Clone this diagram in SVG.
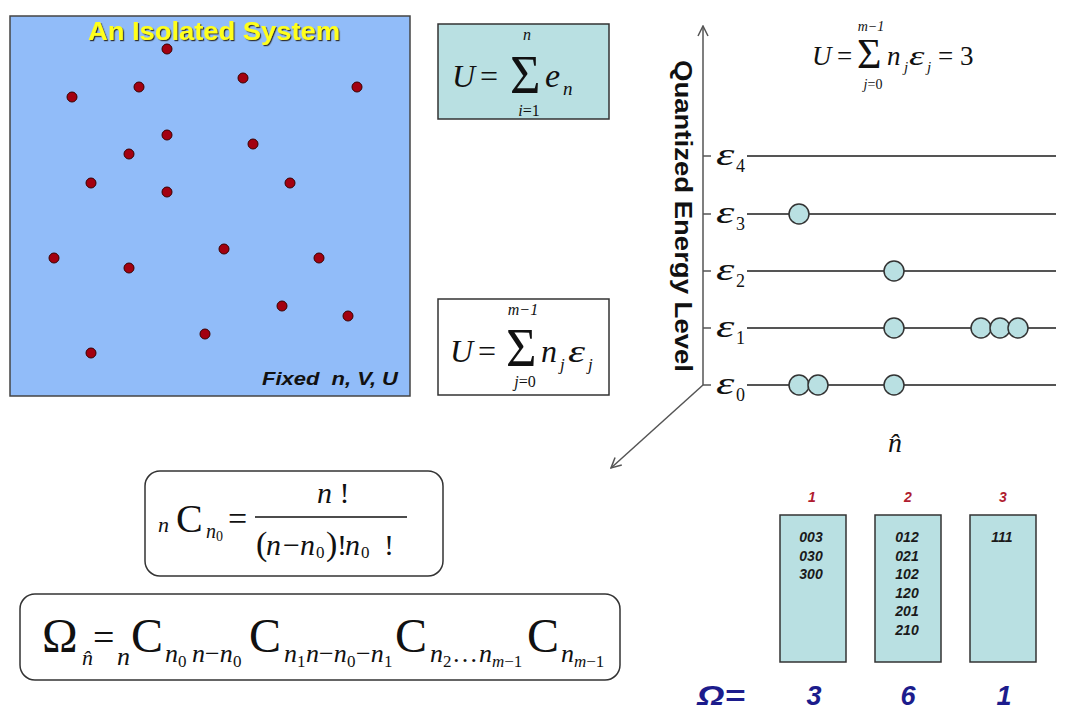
<svg xmlns="http://www.w3.org/2000/svg" width="1074" height="713" viewBox="0 0 1074 713">
<style>
.m{font-family:"Liberation Serif","Times New Roman",serif;fill:#111}
.i{font-style:italic}
.box{stroke:#333;stroke-width:1.5}
.dot{fill:#a30010;stroke:#3a0000;stroke-width:1}
.lvl{stroke:#555;stroke-width:2}
.ax{stroke:#555;stroke-width:1.5;fill:none}
.p{fill:#b9e0e2;stroke:#333;stroke-width:1.5}
.st{font-family:"Liberation Sans",Arial,sans-serif;font-weight:bold;font-style:italic;font-size:14px;fill:#1a1a1a;text-anchor:middle}
.lab{font-family:"Liberation Sans",Arial,sans-serif;font-weight:bold;font-style:italic;font-size:14px;fill:#b01c30;text-anchor:middle}
.om{font-family:"Liberation Sans",Arial,sans-serif;font-weight:bold;font-style:italic;font-size:27px;fill:#1c1c8c}
</style>
<defs>
<filter id="sh" x="-10%" y="-30%" width="120%" height="160%"><feDropShadow dx="1.2" dy="1.2" stdDeviation="0.6" flood-color="#333"/></filter>
<marker id="ar" markerWidth="12" markerHeight="12" refX="11" refY="6" orient="auto" markerUnits="userSpaceOnUse"><path d="M1,1 L11,6 L1,11" fill="none" stroke="#555" stroke-width="1.5"/></marker>
</defs>
<rect width="1074" height="713" fill="#fff"/>

<g id="isolated-system">
<rect x="10" y="16" width="400" height="380" fill="#91bcf9" stroke="#444" stroke-width="1.5"/>
<text x="214" y="40" text-anchor="middle" font-family="Liberation Sans,Arial,sans-serif" font-weight="bold" font-size="25" fill="#ffff1a" filter="url(#sh)" textLength="252" lengthAdjust="spacingAndGlyphs">An Isolated System</text>
<circle class="dot" cx="167" cy="49" r="5"/>
<circle class="dot" cx="243" cy="78" r="5"/>
<circle class="dot" cx="357" cy="87" r="5"/>
<circle class="dot" cx="72" cy="97" r="5"/>
<circle class="dot" cx="139" cy="87" r="5"/>
<circle class="dot" cx="167" cy="135" r="5"/>
<circle class="dot" cx="253" cy="144" r="5"/>
<circle class="dot" cx="129" cy="154" r="5"/>
<circle class="dot" cx="91" cy="183" r="5"/>
<circle class="dot" cx="167" cy="192" r="5"/>
<circle class="dot" cx="290" cy="183" r="5"/>
<circle class="dot" cx="54" cy="258" r="5"/>
<circle class="dot" cx="129" cy="268" r="5"/>
<circle class="dot" cx="224" cy="249" r="5"/>
<circle class="dot" cx="319" cy="258" r="5"/>
<circle class="dot" cx="282" cy="306" r="5"/>
<circle class="dot" cx="348" cy="316" r="5"/>
<circle class="dot" cx="205" cy="334" r="5"/>
<circle class="dot" cx="91" cy="353" r="5"/>
<text x="262" y="385" font-family="Liberation Sans,Arial,sans-serif" font-weight="bold" font-style="italic" font-size="18" fill="#111" xml:space="preserve" textLength="136" lengthAdjust="spacingAndGlyphs">Fixed  n, V, U</text>
</g>

<g id="formula-sum-e">
<rect class="box" x="438" y="24" width="171" height="95" fill="#b9e0e2"/>
<text class="m i" x="452" y="87" font-size="32">U</text>
<text class="m" x="480" y="87" font-size="32">=</text>
<text class="m" transform="translate(510,93) scale(1.05,1.12)" font-size="50">Σ</text>
<text class="m i" x="527" y="40" font-size="16" text-anchor="middle">n</text>
<text class="m" x="529" y="116" font-size="16" text-anchor="middle"><tspan font-style="italic">i</tspan>=1</text>
<text class="m i" x="545" y="87" font-size="34">e</text>
<text class="m i" x="563" y="95" font-size="19">n</text>
</g>

<g id="formula-sum-nj">
<rect class="box" x="438" y="299" width="171" height="96" fill="#fff"/>
<text class="m i" x="450" y="362" font-size="32">U</text>
<text class="m" x="478" y="362" font-size="32">=</text>
<text class="m" transform="translate(506,366) scale(1.05,1.12)" font-size="50">Σ</text>
<text class="m i" x="523" y="315" font-size="16" text-anchor="middle">m−1</text>
<text class="m" x="525" y="387" font-size="16" text-anchor="middle"><tspan font-style="italic">j</tspan>=0</text>
<text class="m i" x="541" y="362" font-size="32">n</text>
<text class="m i" x="560" y="370" font-size="17">j</text>
<text class="m i" transform="translate(568,362) scale(1.35,1)" font-size="32">ε</text>
<text class="m i" x="588" y="370" font-size="17">j</text>
</g>

<g id="formula-U3">
<text class="m i" x="812" y="65" font-size="27">U</text>
<text class="m" x="837" y="65" font-size="27">=</text>
<text class="m" x="857" y="68" font-size="42">Σ</text>
<text class="m i" x="871" y="31" font-size="14" text-anchor="middle">m−1</text>
<text class="m" x="873" y="89" font-size="14" text-anchor="middle"><tspan font-style="italic">j</tspan>=0</text>
<text class="m i" x="887" y="65" font-size="27">n</text>
<text class="m i" x="904" y="72" font-size="15">j</text>
<text class="m i" transform="translate(909,65) scale(1.45,1)" font-size="27">ε</text>
<text class="m i" x="927" y="72" font-size="15">j</text>
<text class="m" x="938" y="65" font-size="27">= 3</text>
</g>

<g id="energy-axis">
<text transform="translate(675,60) rotate(90)" font-family="Liberation Sans,Arial,sans-serif" font-weight="bold" font-size="24" fill="#111" textLength="312" lengthAdjust="spacingAndGlyphs">Quantized Energy  Level</text>
<g id="connectors">
<line class="ax" x1="703" y1="385" x2="703" y2="26" marker-end="url(#ar)"/>
<line class="ax" x1="703" y1="385" x2="611" y2="468" marker-end="url(#ar)"/>
<path class="ax" d="M703,156H711M703,214H711M703,271H711M703,328H711M703,385H711"/>
</g>
<line class="lvl" x1="747" y1="156" x2="1056" y2="156"/>
<line class="lvl" x1="747" y1="214" x2="1056" y2="214"/>
<line class="lvl" x1="747" y1="271" x2="1056" y2="271"/>
<line class="lvl" x1="747" y1="328" x2="1056" y2="328"/>
<line class="lvl" x1="747" y1="385" x2="1056" y2="385"/>
<text class="m i" transform="translate(716,165) scale(1.5,1)" font-size="31">ε</text><text class="m" x="736" y="172" font-size="18">4</text>
<text class="m i" transform="translate(716,223) scale(1.5,1)" font-size="31">ε</text><text class="m" x="736" y="230" font-size="18">3</text>
<text class="m i" transform="translate(716,280) scale(1.5,1)" font-size="31">ε</text><text class="m" x="736" y="287" font-size="18">2</text>
<text class="m i" transform="translate(716,337) scale(1.5,1)" font-size="31">ε</text><text class="m" x="736" y="344" font-size="18">1</text>
<text class="m i" transform="translate(716,394) scale(1.5,1)" font-size="31">ε</text><text class="m" x="736" y="401" font-size="18">0</text>
<circle class="p" cx="799" cy="214" r="10"/>
<circle class="p" cx="894" cy="271" r="10"/>
<circle class="p" cx="894" cy="328" r="10"/>
<circle class="p" cx="981" cy="328" r="10"/>
<circle class="p" cx="1000" cy="328" r="10"/>
<circle class="p" cx="1018" cy="328" r="10"/>
<circle class="p" cx="799" cy="385" r="10"/>
<circle class="p" cx="818" cy="385" r="10"/>
<circle class="p" cx="894" cy="385" r="10"/>
<text class="m i" x="895" y="452" font-size="28" text-anchor="middle">n̂</text>
</g>

<g id="formula-combination">
<rect class="box" x="145" y="471" width="298" height="105" rx="15" fill="#fff"/>
<text class="m i" x="158" y="532" font-size="22">n</text>
<text class="m" x="176" y="532" font-size="40">C</text>
<text class="m i" x="206" y="538" font-size="20">n</text>
<text class="m" x="216" y="541" font-size="14">0</text>
<text class="m" x="228" y="530" font-size="34">=</text>
<line x1="255" y1="517" x2="407" y2="517" stroke="#111" stroke-width="1.5"/>
<text class="m" x="317" y="503" font-size="30" xml:space="preserve"><tspan font-style="italic">n</tspan> !</text>
<text class="m" x="256" y="555" font-size="34">(</text>
<text class="m i" x="266" y="555" font-size="30">n</text>
<text class="m" x="283" y="555" font-size="30">−</text>
<text class="m i" x="300" y="555" font-size="30">n</text>
<text class="m" x="316" y="558" font-size="17">0</text>
<text class="m" x="326" y="555" font-size="34">)</text>
<text class="m" x="337" y="555" font-size="30">!</text>
<text class="m i" x="345" y="555" font-size="30">n</text>
<text class="m" x="361" y="558" font-size="17">0</text>
<text class="m" x="384" y="555" font-size="30">!</text>
</g>

<g id="formula-omega">
<rect class="box" x="20" y="594" width="600" height="86" rx="15" fill="#fff"/>
<text class="m" x="42" y="652" font-size="48">Ω</text>
<text class="m i" x="82" y="665" font-size="22">n̂</text>
<text class="m" x="93" y="650" font-size="38">=</text>
<text class="m i" x="117" y="665" font-size="26">n</text>
<text class="m" x="131" y="652" font-size="48">C</text>
<text class="m i" x="165" y="662" font-size="26">n</text>
<text class="m" x="178" y="667" font-size="17">0</text>
<text class="m i" x="192" y="662" font-size="26">n<tspan font-style="normal">−</tspan>n</text>
<text class="m" x="233" y="667" font-size="17">0</text>
<text class="m" x="249" y="652" font-size="48">C</text>
<text class="m i" x="284" y="662" font-size="26">n</text>
<text class="m" x="297" y="667" font-size="17">1</text>
<text class="m i" x="306" y="662" font-size="26">n<tspan font-style="normal">−</tspan>n</text>
<text class="m" x="347" y="667" font-size="17">0</text>
<text class="m i" x="356" y="662" font-size="26"><tspan font-style="normal">−</tspan>n</text>
<text class="m" x="384" y="667" font-size="17">1</text>
<text class="m" x="395" y="652" font-size="48">C</text>
<text class="m i" x="430" y="662" font-size="26">n</text>
<text class="m" x="443" y="667" font-size="17">2</text>
<text class="m" x="452" y="662" font-size="26">…</text>
<text class="m i" x="479" y="662" font-size="26">n</text>
<text class="m i" x="492" y="667" font-size="17">m<tspan font-style="normal">−1</tspan></text>
<text class="m" x="527" y="652" font-size="48">C</text>
<text class="m i" x="561" y="662" font-size="26">n</text>
<text class="m i" x="574" y="667" font-size="17">m<tspan font-style="normal">−1</tspan></text>
</g>

<g id="microstates-1">
<text class="lab" x="812" y="502">1</text>
<rect class="p" x="780" y="515" width="66" height="147"/>
<text class="st" x="811" y="542">003</text>
<text class="st" x="811" y="561">030</text>
<text class="st" x="811" y="579">300</text>
</g>
<g id="microstates-2">
<text class="lab" x="908" y="502">2</text>
<rect class="p" x="875" y="515" width="66" height="147"/>
<text class="st" x="907" y="542">012</text>
<text class="st" x="907" y="561">021</text>
<text class="st" x="907" y="579">102</text>
<text class="st" x="907" y="598">120</text>
<text class="st" x="907" y="616">201</text>
<text class="st" x="907" y="635">210</text>
</g>
<g id="microstates-3">
<text class="lab" x="1003" y="502">3</text>
<rect class="p" x="970" y="515" width="66" height="147"/>
<text class="st" x="1002" y="542">111</text>
</g>

<g id="omega-row">
<text class="om" x="697" y="705" font-size="28" textLength="48" lengthAdjust="spacingAndGlyphs">Ω=</text>
<text class="om" x="814" y="705" text-anchor="middle">3</text>
<text class="om" x="908" y="705" text-anchor="middle">6</text>
<text class="om" x="1004" y="705" text-anchor="middle">1</text>
</g>
</svg>
